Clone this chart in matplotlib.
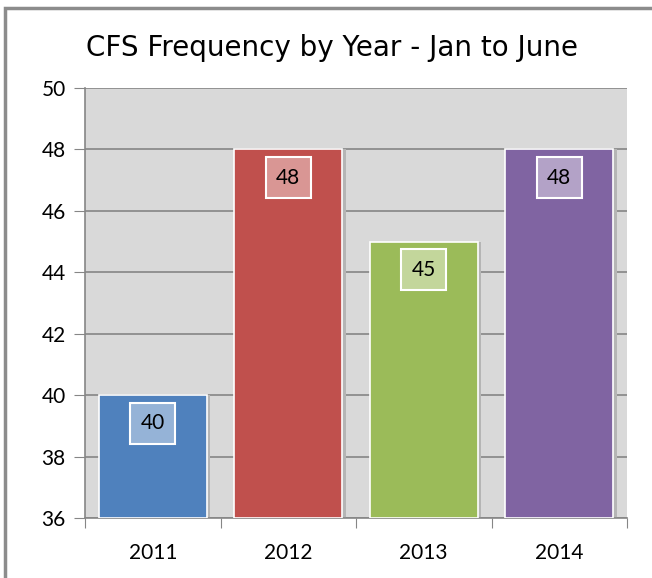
import matplotlib
matplotlib.use('Agg')
import matplotlib.pyplot as plt
from matplotlib.patches import Rectangle

years = ['2011', '2012', '2013', '2014']
counts = [40, 48, 45, 48]
bar_colors = ['#4f81bd', '#c0504d', '#9bbb59', '#8064a2']
label_colors = ['#95b3d7', '#d99694', '#c3d69b', '#b3a2c7']
y_ticks = [36, 38, 40, 42, 44, 46, 48, 50]

W, H = 652, 578
fig = plt.figure(figsize=(W / 100, H / 100), dpi=100)

# outer chart frame (cut off on the right like the original)
fig.patches.append(Rectangle((5 / W, -0.05), 1.2, 1 - 8 / H + 0.05, transform=fig.transFigure,
                             fill=False, edgecolor='#8c8c8c', linewidth=2.5))

ax = fig.add_axes([85 / W, 1 - 518 / H, (627 - 85) / W, (518 - 88) / H])
ax.set_facecolor('#d9d9d9')

x = range(len(years))
# faint shadow to the right of each bar
ax.bar([i + 0.025 for i in x], [c - 36 for c in counts], bottom=36, width=0.8,
       color='#b5b5b5', linewidth=0, zorder=2)
ax.bar(x, [c - 36 for c in counts], bottom=36, width=0.8, color=bar_colors,
       edgecolor='white', linewidth=1.2, zorder=3)

for i, c in enumerate(counts):
    ax.text(i, c - 0.92, str(c), ha='center', va='center', fontsize=15, family='Lato',
            zorder=4, bbox=dict(boxstyle='square,pad=0.5', facecolor=label_colors[i],
                                edgecolor='white', linewidth=1.5))

ax.set_xlim(-0.5, 3.5)
ax.set_ylim(36, 50)
ax.set_yticks(y_ticks)
ax.set_yticklabels([str(t) for t in y_ticks], family='Lato', fontsize=15)
ax.set_xticks([-0.5, 0.5, 1.5, 2.5, 3.5])
ax.set_xticklabels([])
ax.set_xticks(list(x), minor=True)
ax.set_xticklabels(years, minor=True, family='Lato', fontsize=15)
ax.tick_params(axis='x', which='minor', length=0, pad=18)
ax.tick_params(axis='x', which='major', length=7, color='#868686', direction='out')
ax.tick_params(axis='y', length=8, color='#868686', direction='out', pad=6)

ax.grid(True, axis='y', color='#868686', linewidth=1.2, zorder=1)

for s in ['top', 'right']:
    ax.spines[s].set_visible(False)
for s in ['left', 'bottom']:
    ax.spines[s].set_color('#868686')
    ax.spines[s].set_linewidth(1.2)

fig.text(332 / W, 1 - 48 / H, 'CFS Frequency by Year - Jan to June', ha='center', va='center',
         fontsize=20)

fig.savefig('out.png', dpi=100)
